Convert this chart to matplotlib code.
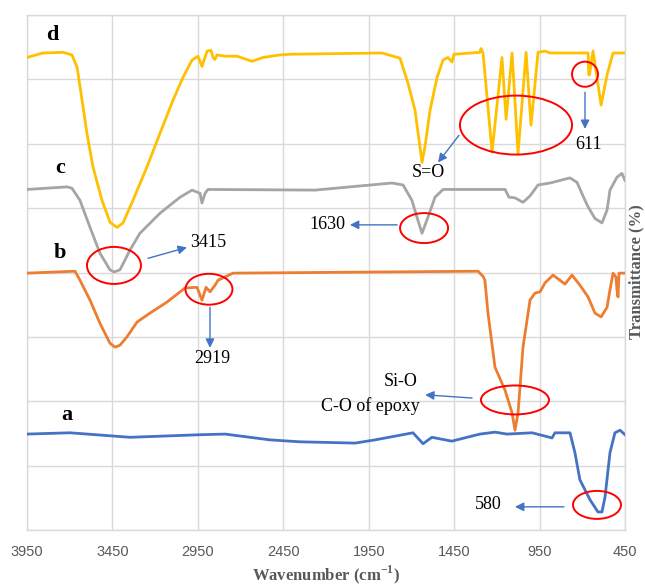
import matplotlib
matplotlib.use("Agg")
import matplotlib.pyplot as plt
from matplotlib.patches import Ellipse

plt.rcParams['mathtext.fontset'] = 'custom'
plt.rcParams['mathtext.rm'] = 'Liberation Serif'
plt.rcParams['mathtext.bf'] = 'Liberation Serif:bold'

# ---- data (wavenumber cm-1, transmittance in arbitrary offset units) ----
wn_a = [3950, 3698, 3447, 3347, 2937, 2791, 2528, 2352, 2030, 1913, 1691, 1632, 1580,
        1463, 1375, 1299, 1211, 1141, 994, 877, 860, 772, 743, 714, 655, 608, 585,
        567, 538, 509, 479, 450]
t_a = [14.9, 15.1, 14.6, 14.4, 14.8, 14.9, 14.0, 13.7, 13.5, 14.0, 15.1, 13.4, 14.4,
       13.8, 14.4, 14.9, 15.2, 14.9, 15.1, 14.3, 15.1, 15.1, 12.0, 7.8, 4.7, 2.8, 2.8,
       5.1, 12.0, 15.1, 15.5, 14.8]

wn_b = [3950, 3669, 3640, 3581, 3523, 3464, 3435, 3406, 3365, 3306, 3230, 3131, 3025,
        2955, 2926, 2902, 2879, 2850, 2832, 2744, 1310, 1281, 1270, 1252, 1211, 1152,
        1111, 1094, 1076, 1047, 1006, 977, 947, 918, 871, 801, 760, 713, 666, 626,
        590, 555, 538, 520, 503, 497, 491, 485, 450]
t_b = [39.9, 40.2, 38.8, 35.7, 32.1, 29.0, 28.4, 28.7, 30.0, 32.3, 33.7, 35.4, 37.6,
       37.7, 35.7, 37.7, 37.0, 38.0, 38.8, 39.9, 40.2, 39.4, 38.8, 33.7, 25.3, 21.7,
       18.2, 15.5, 18.2, 28.4, 35.7, 36.8, 37.0, 38.4, 39.6, 38.2, 39.6, 38.0, 36.2,
       33.7, 33.1, 34.6, 37.3, 39.9, 39.3, 37.3, 36.2, 39.9, 39.9]

wn_c = [3950, 3716, 3687, 3640, 3581, 3523, 3464, 3441, 3406, 3347, 3289, 3172, 3054,
        2984, 2937, 2926, 2908, 2891, 2264, 1814, 1749, 1697, 1662, 1638, 1603, 1562,
        1515, 1152, 1129, 1094, 1047, 1006, 959, 889, 772, 731, 684, 666, 626, 585,
        555, 538, 497, 468, 450]
t_c = [52.9, 53.3, 53.1, 51.2, 47.0, 43.0, 40.4, 40.1, 40.4, 43.5, 46.1, 49.2, 51.7,
       52.8, 52.3, 50.8, 52.3, 52.9, 52.8, 53.9, 53.6, 51.2, 48.1, 46.1, 48.6, 51.7,
       52.9, 52.9, 51.7, 51.6, 50.9, 51.9, 53.6, 53.9, 54.7, 54.0, 51.2, 50.2, 48.4,
       47.7, 49.7, 52.8, 54.8, 55.4, 54.3]

wn_d = [3950, 3856, 3739, 3687, 3657, 3628, 3599, 3564, 3511, 3464, 3423, 3388, 3330,
        3248, 3172, 3095, 3037, 2984, 2949, 2926, 2896, 2873, 2861, 2850, 2838, 2791,
        2721, 2633, 2569, 2469, 2411, 1872, 1767, 1720, 1679, 1650, 1638, 1621, 1591,
        1550, 1515, 1486, 1463, 1451, 1299, 1293, 1281, 1228, 1170, 1146, 1111, 1076,
        1029, 1000, 959, 918, 889, 666, 662, 658, 637, 590, 555, 520, 450]
t_d = [73.4, 74.1, 74.2, 73.8, 71.9, 66.8, 61.6, 56.4, 51.2, 47.8, 47.0, 47.7, 51.2,
       56.4, 61.6, 66.8, 70.3, 73.0, 73.6, 72.0, 74.4, 74.5, 73.4, 73.1, 73.8, 73.6,
       73.6, 72.8, 73.4, 73.8, 73.9, 74.1, 73.3, 69.4, 65.2, 59.5, 57.1, 59.5, 65.2,
       70.3, 73.0, 73.4, 72.7, 73.9, 74.2, 74.8, 74.1, 58.7, 73.4, 63.8, 74.1, 58.5,
       74.2, 62.9, 74.2, 74.4, 74.1, 74.1, 70.7, 70.7, 74.4, 66.0, 70.7, 74.1, 74.1]

x_ticks = [3950, 3450, 2950, 2450, 1950, 1450, 950, 450]
series_labels = ['a', 'b', 'c', 'd']
colors = ['#4472C4', '#ED7D31', '#A5A5A5', '#FFC000']

# ---- figure ----
fig = plt.figure(figsize=(6.45, 5.86), dpi=100)
ax = fig.add_axes([27/645, 1-530/586, 598/645, 515/586])

for wn, t, c in zip([wn_a, wn_b, wn_c, wn_d], [t_a, t_b, t_c, t_d], colors):
    ax.plot(wn, t, color=c, lw=2.0, solid_joinstyle='round', zorder=3)

ax.set_xlim(3950, 450)
ax.set_ylim(0, 80)
ax.set_xticks(x_ticks)
ax.set_xticklabels([str(v) for v in x_ticks], fontfamily='Liberation Sans',
                   fontsize=10.5, color='#595959')
ax.set_yticks(range(0, 81, 10))
ax.set_yticklabels([])
ax.tick_params(length=0, pad=11)
ax.grid(True, color='#D9D9D9', lw=1.0, zorder=0)
for s in ax.spines.values():
    s.set_color('#D9D9D9')
    s.set_linewidth(1.0)

serif = 'Liberation Serif'
# series letters
for lab, (lx, ly) in zip(series_labels, [(3716, 17.9), (3757, 43.0), (3757, 56.2), (3804, 76.9)]):
    ax.text(lx, ly, lab, fontfamily=serif, fontweight='bold', fontsize=16,
            ha='center', va='center', zorder=5)

# red ellipses
ell = [(3441, 41.1, 316, 5.75), (2885, 37.4, 275, 4.8), (1626, 46.9, 281, 4.66),
       (1088, 62.9, 656, 9.16), (684, 70.8, 152, 3.9), (1094, 20.2, 398, 4.5),
       (614, 3.9, 281, 4.35)]
for cx, cy, w, h in ell:
    ax.add_patch(Ellipse((cx, cy), w, h, fill=False, ec='#FF0000', lw=1.4, zorder=6))

# arrows + texts
arrow_kw = dict(arrowstyle='-|>', color='#4472C4', lw=1.0, mutation_scale=13,
                shrinkA=0, shrinkB=0)
arrows = [((3242, 42.2), (3014, 43.9)), ((2879, 34.6), (2879, 28.3)),
          ((1784, 47.4), (2060, 47.4)), ((1422, 61.3), (1544, 57.1)),
          ((684, 68.0), (684, 62.3)), ((1345, 20.5), (1620, 21.0)),
          ((807, 3.6), (1094, 3.6))]
for a0, a1 in arrows:
    ax.annotate('', xy=a1, xytext=a0, arrowprops=arrow_kw, zorder=6)

tfs = 13
ax.text(2996, 44.6, '3415', fontfamily=serif, fontsize=tfs, ha='left', va='center')
ax.text(2867, 26.6, '2919', fontfamily=serif, fontsize=tfs, ha='center', va='center')
ax.text(2089, 47.4, '1630', fontfamily=serif, fontsize=tfs, ha='right', va='center')
ax.text(1603, 55.6, 'S=O', fontfamily=serif, fontsize=tfs, ha='center', va='center')
ax.text(661, 59.9, '611', fontfamily=serif, fontsize=tfs, ha='center', va='center')
ax.text(1662, 23.1, 'Si-O', fontfamily=serif, fontsize=tfs, ha='right', va='center')
ax.text(1650, 19.3, 'C-O of epoxy', fontfamily=serif, fontsize=tfs, ha='right', va='center')
ax.text(1170, 3.9, '580', fontfamily=serif, fontsize=tfs, ha='right', va='center')

fig.text(326/645, 1-575/586, r'Wavenumber (cm$^{\mathbf{-1}}$)', fontfamily=serif,
         fontweight='bold', fontsize=12, color='#595959', ha='center', va='center')
fig.text(636/645, 1-272/586, 'Transmittance (%)', fontfamily=serif, fontweight='bold',
         fontsize=12, color='#595959', ha='center', va='center', rotation=90)

fig.savefig('out.png', dpi=100)
